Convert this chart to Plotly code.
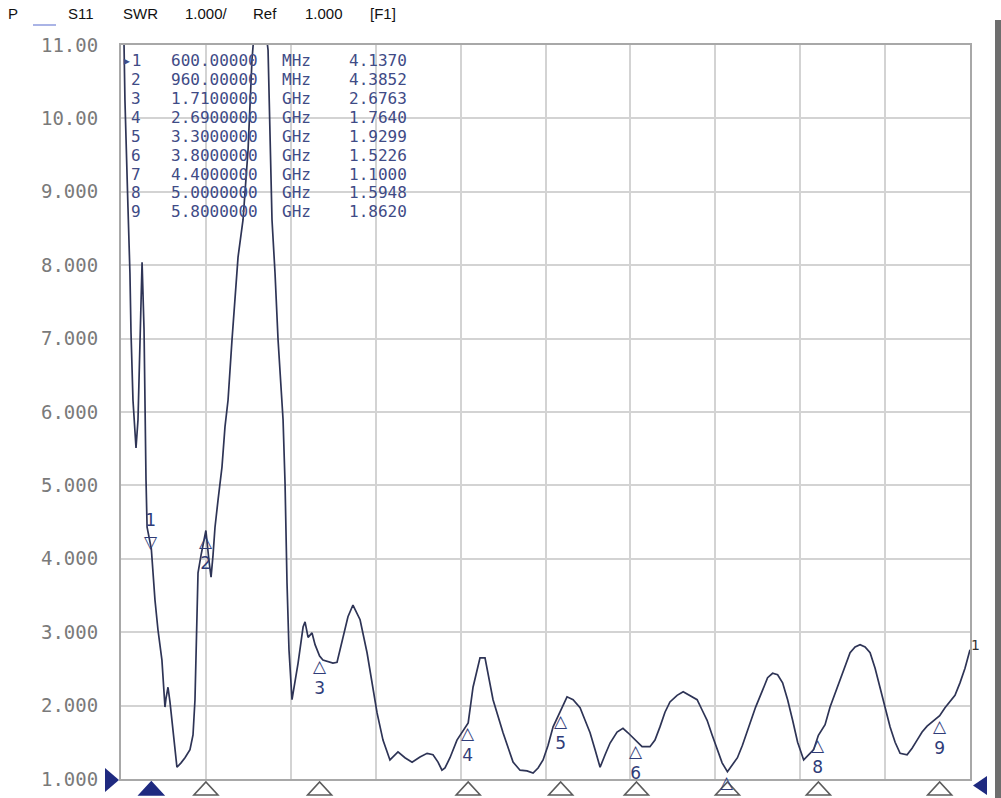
import plotly.graph_objects as go

# ---------------- data ----------------
freq_ghz = [
    0.400, 0.420, 0.426, 0.440, 0.446, 0.459, 0.466, 0.479, 0.492, 0.499,
    0.512, 0.525, 0.539, 0.552, 0.558, 0.565, 0.572, 0.600, 0.624, 0.644,
    0.670, 0.690, 0.697, 0.710, 0.723, 0.736, 0.756, 0.769, 0.796, 0.822,
    0.855, 0.875, 0.888, 0.895, 0.901, 0.908, 0.928, 0.960, 0.980, 0.994,
    1.007, 1.020, 1.040, 1.066, 1.086, 1.106, 1.132, 1.172, 1.205, 1.238,
    1.264, 1.310, 1.370, 1.383, 1.396, 1.416, 1.436, 1.469, 1.482, 1.495,
    1.508, 1.528, 1.568, 1.601, 1.614, 1.634, 1.660, 1.680, 1.710, 1.732,
    1.798, 1.825, 1.864, 1.897, 1.930, 1.977, 2.023, 2.056, 2.089, 2.128,
    2.174, 2.227, 2.273, 2.320, 2.372, 2.419, 2.458, 2.491, 2.517, 2.537,
    2.570, 2.616, 2.690, 2.722, 2.768, 2.801, 2.854, 2.920, 2.986, 3.032,
    3.078, 3.118, 3.151, 3.184, 3.217, 3.250, 3.300, 3.342, 3.382, 3.428,
    3.461, 3.494, 3.527, 3.560, 3.593, 3.626, 3.672, 3.711, 3.744, 3.800,
    3.837, 3.889, 3.922, 3.955, 3.988, 4.021, 4.068, 4.108, 4.154, 4.200,
    4.233, 4.266, 4.299, 4.332, 4.365, 4.400, 4.466, 4.499, 4.539, 4.586,
    4.632, 4.665, 4.698, 4.731, 4.764, 4.797, 4.830, 4.863, 4.903, 4.936,
    4.969, 5.000, 5.044, 5.077, 5.110, 5.143, 5.176, 5.209, 5.242, 5.275,
    5.308, 5.341, 5.374, 5.407, 5.440, 5.473, 5.506, 5.539, 5.585, 5.618,
    5.651, 5.684, 5.717, 5.750, 5.800, 5.835, 5.868, 5.901, 5.934, 5.967,
    6.000,
]
swr = [
    11.20, 11.00, 10.25, 9.43, 8.79, 7.89, 7.08, 6.16, 5.62, 5.51,
    5.89, 7.12, 8.04, 7.12, 5.89, 5.07, 4.43, 4.137, 3.44, 3.03,
    2.62, 1.98, 2.10, 2.25, 2.05, 1.80, 1.46, 1.16, 1.22, 1.29,
    1.40, 1.60, 2.08, 2.62, 3.17, 3.81, 4.05, 4.3852, 3.98, 3.75,
    4.05, 4.43, 4.80, 5.25, 5.80, 6.16, 6.98, 8.11, 8.62, 9.57,
    10.80, 12.00, 10.93, 9.57, 8.62, 7.89, 6.98, 5.89, 5.03, 3.67,
    2.76, 2.08, 2.58, 3.07, 3.14, 2.93, 2.99, 2.83, 2.6763, 2.62,
    2.58, 2.59, 2.92, 3.21, 3.37, 3.17, 2.72, 2.28, 1.90, 1.53,
    1.26, 1.37, 1.29, 1.23, 1.30, 1.35, 1.33, 1.23, 1.12, 1.15,
    1.29, 1.53, 1.764, 2.25, 2.65, 2.65, 2.08, 1.63, 1.23, 1.12,
    1.11, 1.08, 1.15, 1.26, 1.46, 1.71, 1.9299, 2.12, 2.08, 1.97,
    1.80, 1.63, 1.40, 1.16, 1.33, 1.49, 1.64, 1.69, 1.63, 1.5226,
    1.44, 1.44, 1.53, 1.71, 1.91, 2.05, 2.14, 2.19, 2.14, 2.08,
    1.94, 1.80, 1.60, 1.40, 1.22, 1.100, 1.29, 1.46, 1.71, 1.98,
    2.21, 2.38, 2.44, 2.42, 2.31, 2.08, 1.80, 1.50, 1.26, 1.33,
    1.40, 1.5948, 1.74, 1.98, 2.17, 2.35, 2.55, 2.72, 2.80, 2.83,
    2.80, 2.72, 2.51, 2.25, 1.98, 1.71, 1.50, 1.35, 1.33, 1.42,
    1.53, 1.64, 1.72, 1.78, 1.862, 1.97, 2.05, 2.14, 2.31, 2.51,
    2.76,
]

marker_id = [1, 2, 3, 4, 5, 6, 7, 8, 9]
marker_freq_ghz = [0.60, 0.96, 1.71, 2.69, 3.30, 3.80, 4.40, 5.00, 5.80]
marker_freq_label = ["600.00000", "960.00000", "1.7100000", "2.6900000", "3.3000000",
                     "3.8000000", "4.4000000", "5.0000000", "5.8000000"]
marker_unit = ["MHz", "MHz", "GHz", "GHz", "GHz", "GHz", "GHz", "GHz", "GHz"]
marker_swr = [4.1370, 4.3852, 2.6763, 1.7640, 1.9299, 1.5226, 1.1000, 1.5948, 1.8620]
active_marker = 1

y_tick_vals = [1, 2, 3, 4, 5, 6, 7, 8, 9, 10, 11]
y_tick_text = ["1.000", "2.000", "3.000", "4.000", "5.000", "6.000",
               "7.000", "8.000", "9.000", "10.00", "11.00"]

header_items = ["P", "S11", "SWR", "1.000/", "Ref", "1.000", "[F1]"]
trace_number = "1"

# ---------------- layout constants ----------------
W, H = 1001, 798
L, R, T, B = 121, 31, 45, 19
PW, PH = W - L - R, H - T - B
X_MIN, X_MAX, X_DIV = 0.4, 6.0, 0.56
Y_MIN, Y_MAX = 1.0, 11.0

TRACE_COL = "#2e3456"
MARK_COL = "#2f3c78"
TABLE_COL = "#3f4b86"
NAVY = "#1f2a80"
GRID = "#d3d3d3"
FRAME = "#a8a8a8"


def paper_x(px):
    return (px - L) / PW


def paper_y(py):
    return (H - B - py) / PH


header_px = [8, 68, 123, 185, 253, 305, 370]

fig = go.Figure()

# main trace
fig.add_trace(go.Scatter(
    x=freq_ghz, y=swr, mode="lines",
    line=dict(color=TRACE_COL, width=1.7),
    hoverinfo="skip", showlegend=False,
))

annotations = []
shapes = []

# stimulus markers under the axis (pixel-sized triangles anchored at marker frequency)
for m, f in zip(marker_id, marker_freq_ghz):
    active = m == active_marker
    shapes.append(dict(
        type="path", xref="x", yref="paper", xsizemode="pixel", ysizemode="pixel",
        xanchor=f, yanchor=0, path="M-12,-16 L12,-16 L0,-3 Z",
        fillcolor=NAVY if active else "white",
        line=dict(color=NAVY if active else "#5c5c5c", width=1.6),
        layer="above",
    ))

# reference-level arrows (anchored to the plot-area corners)
shapes.append(dict(
    type="path", xref="paper", yref="paper", xsizemode="pixel", ysizemode="pixel",
    xanchor=0, yanchor=0, path="M-16,11 L-16,-13 L-2,-1 Z",
    fillcolor=NAVY, line=dict(width=0), layer="above",
))
shapes.append(dict(
    type="path", xref="paper", yref="paper", xsizemode="pixel", ysizemode="pixel",
    xanchor=1, yanchor=0, path="M17,3 L17,-16 L3,-6.5 Z",
    fillcolor=NAVY, line=dict(width=0), layer="above",
))

# trace markers
mfont = dict(family="DejaVu Sans", size=17, color=MARK_COL)
for m, f, v in zip(marker_id, marker_freq_ghz, marker_swr):
    if m == active_marker:
        annotations.append(dict(
            x=f, y=v, xref="x", yref="y", text=f"{m}<br>▽", showarrow=False,
            xanchor="center", yanchor="bottom", yshift=-5, font=mfont,
        ))
    elif v - Y_MIN < 0.3:
        # number would fall below the window; only the triangle is visible
        annotations.append(dict(
            x=f, y=v, xref="x", yref="y", text="△", showarrow=False,
            xanchor="center", yanchor="top", yshift=2, font=mfont,
        ))
    else:
        annotations.append(dict(
            x=f, y=v, xref="x", yref="y", text=f"△<br>{m}", showarrow=False,
            xanchor="center", yanchor="top", yshift=2, font=mfont,
        ))

# trace end number
annotations.append(dict(
    x=freq_ghz[-1], y=swr[-1], xref="x", yref="y", text=trace_number,
    showarrow=False, xanchor="left", yanchor="bottom", xshift=-1, yshift=-5,
    font=dict(family="DejaVu Sans", size=14, color="#333333"),
))

# marker table
ROW0, ROW_DY = 60, 19
tfont = dict(family="DejaVu Sans Mono", size=16, color=TABLE_COL)
for i, (m, fl, u, v) in enumerate(zip(marker_id, marker_freq_label, marker_unit, marker_swr)):
    py = ROW0 + i * ROW_DY
    label = ("▸" if m == active_marker else "") + str(m)
    annotations += [
        dict(x=paper_x(143), y=paper_y(py), xref="paper", yref="paper", text=label,
             showarrow=False, xanchor="right", yanchor="middle", font=tfont),
        dict(x=paper_x(169), y=paper_y(py), xref="paper", yref="paper", text=fl,
             showarrow=False, xanchor="left", yanchor="middle", font=tfont),
        dict(x=paper_x(280), y=paper_y(py), xref="paper", yref="paper", text=u,
             showarrow=False, xanchor="left", yanchor="middle", font=tfont),
        dict(x=paper_x(409), y=paper_y(py), xref="paper", yref="paper", text=f"{v:.4f}",
             showarrow=False, xanchor="right", yanchor="middle", font=tfont),
    ]

# header line
for txt, px in zip(header_items, header_px):
    annotations.append(dict(
        x=paper_x(px), y=paper_y(13), xref="paper", yref="paper", text=txt,
        showarrow=False, xanchor="left", yanchor="middle", xshift=-2,
        font=dict(family="Liberation Sans", size=15, color="#111111"),
    ))

# faint blue underline in the header
shapes.append(dict(
    type="line", xref="paper", yref="paper",
    x0=paper_x(33), x1=paper_x(56), y0=paper_y(25), y1=paper_y(25),
    line=dict(color="#aab4e6", width=2),
))
# right window edge bar
shapes.append(dict(
    type="rect", xref="paper", yref="paper", xsizemode="pixel", xanchor=1,
    x0=25, x1=31, y0=paper_y(H), y1=paper_y(20),
    fillcolor="#6e6e6e", line=dict(width=0), layer="above",
))

fig.update_layout(
    width=W, height=H,
    margin=dict(l=L, r=R, t=T, b=B, pad=0, autoexpand=False),
    paper_bgcolor="white", plot_bgcolor="white",
    showlegend=False,
    annotations=annotations,
    shapes=shapes,
    xaxis=dict(
        range=[X_MIN, X_MAX], tickmode="linear", tick0=X_MIN, dtick=X_DIV,
        showticklabels=False, ticks="", showgrid=True, gridcolor=GRID, gridwidth=1.5,
        zeroline=False, showline=True, mirror=True, linecolor=FRAME, linewidth=2,
        automargin=False,
    ),
    yaxis=dict(
        range=[Y_MIN, Y_MAX], tickmode="array", tickvals=y_tick_vals, ticktext=y_tick_text,
        ticks="", showgrid=True, gridcolor=GRID, gridwidth=1.5,
        zeroline=False, showline=True, mirror=True, linecolor=FRAME, linewidth=2,
        tickfont=dict(family="DejaVu Sans Mono", size=19, color="#7a7a7a"),
        ticklabelstandoff=17, automargin=False,
    ),
)

fig.write_html(
    "out.html",
    config={"displayModeBar": False},
    post_script="document.body.style.margin='0';document.body.style.overflow='hidden';",
)
